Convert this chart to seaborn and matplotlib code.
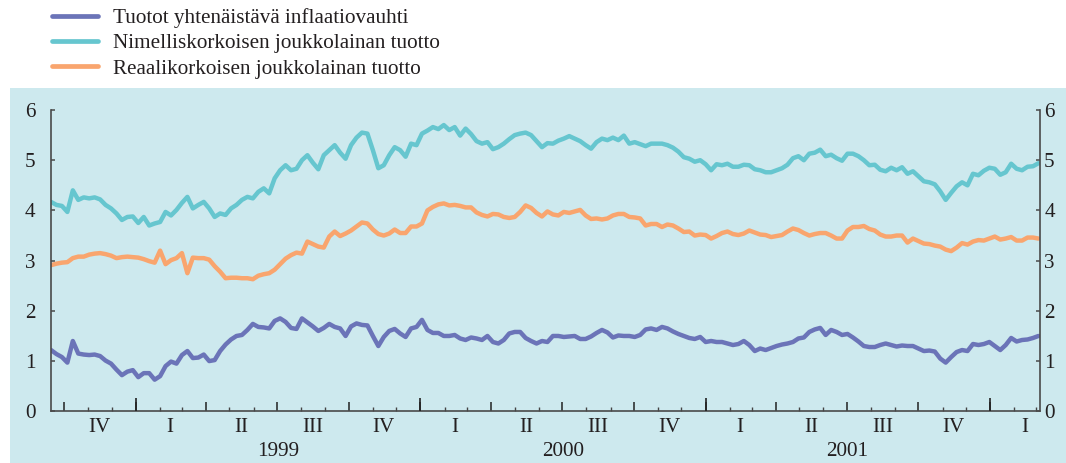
import numpy as np
import pandas as pd
import matplotlib
matplotlib.use("Agg")
import matplotlib.pyplot as plt
import matplotlib.dates as mdates
from matplotlib.patches import Rectangle
from matplotlib.lines import Line2D
import seaborn as sns

# ---------------- data (weekly readings, %) ----------------
dates = pd.date_range("1998-09-14", periods=182, freq="7D")

inflation = [
    1.22, 1.14, 1.08, 0.97, 1.40, 1.15, 1.13, 1.12, 1.13, 1.10,
    1.01, 0.95, 0.83, 0.72, 0.79, 0.82, 0.68, 0.76, 0.76, 0.63,
    0.70, 0.90, 0.99, 0.95, 1.12, 1.20, 1.06, 1.07, 1.13, 1.00,
    1.02, 1.20, 1.33, 1.43, 1.50, 1.52, 1.62, 1.74, 1.68, 1.67,
    1.65, 1.80, 1.85, 1.78, 1.66, 1.64,
    1.85, 1.77, 1.69, 1.60, 1.66, 1.74, 1.68, 1.65, 1.50, 1.69,
    1.75, 1.72, 1.71, 1.50, 1.30, 1.48, 1.60, 1.64, 1.55, 1.48,
    1.65, 1.68, 1.82, 1.62, 1.56, 1.56, 1.50, 1.50, 1.52, 1.45,
    1.42, 1.47, 1.45, 1.42, 1.50, 1.38, 1.35, 1.42, 1.55, 1.58,
    1.58, 1.46, 1.40, 1.35, 1.40, 1.38,
    1.50, 1.50, 1.48, 1.49, 1.50, 1.44, 1.44, 1.49, 1.56, 1.62,
    1.57, 1.47, 1.51, 1.50, 1.50, 1.48, 1.52, 1.63, 1.65, 1.62,
    1.68, 1.65, 1.59, 1.54, 1.50, 1.46, 1.44, 1.48, 1.38, 1.40,
    1.38, 1.38, 1.35, 1.32, 1.34, 1.40, 1.32, 1.20, 1.25, 1.22,
    1.26, 1.30, 1.33, 1.35, 1.38, 1.45,
    1.47, 1.58, 1.63, 1.66, 1.52, 1.62, 1.58, 1.52, 1.54, 1.47,
    1.39, 1.30, 1.28, 1.28, 1.32, 1.35, 1.32, 1.29, 1.31, 1.30,
    1.30, 1.25, 1.20, 1.21, 1.19, 1.05, 0.97, 1.08, 1.18, 1.22,
    1.20, 1.34, 1.32, 1.34, 1.38, 1.30, 1.22, 1.32, 1.46, 1.39,
    1.42, 1.43, 1.46, 1.50,
]

nominal = [
    4.17, 4.11, 4.09, 3.97, 4.40, 4.21, 4.26, 4.24, 4.26, 4.22,
    4.11, 4.04, 3.94, 3.81, 3.87, 3.88, 3.75, 3.87, 3.70, 3.74,
    3.77, 3.97, 3.90, 4.01, 4.15, 4.27, 4.04, 4.11, 4.17, 4.04,
    3.87, 3.94, 3.91, 4.04, 4.11, 4.21, 4.27, 4.24, 4.37, 4.44,
    4.34, 4.64, 4.80, 4.90, 4.80, 4.83,
    5.00, 5.10, 4.95, 4.82, 5.10, 5.20, 5.30, 5.15, 5.03, 5.30,
    5.45, 5.55, 5.53, 5.20, 4.84, 4.90, 5.10, 5.26, 5.20, 5.07,
    5.33, 5.30, 5.53, 5.59, 5.66, 5.62, 5.70, 5.60, 5.66, 5.49,
    5.63, 5.52, 5.38, 5.33, 5.36, 5.22, 5.26, 5.33, 5.42, 5.50,
    5.53, 5.55, 5.50, 5.38, 5.26, 5.34,
    5.33, 5.39, 5.43, 5.48, 5.43, 5.38, 5.30, 5.23, 5.36, 5.43,
    5.40, 5.45, 5.40, 5.49, 5.33, 5.36, 5.32, 5.28, 5.33, 5.33,
    5.33, 5.30, 5.25, 5.17, 5.06, 5.03, 4.97, 5.00, 4.92, 4.80,
    4.92, 4.90, 4.93, 4.87, 4.87, 4.91, 4.90, 4.82, 4.80, 4.76,
    4.76, 4.80, 4.84, 4.91, 5.04, 5.08,
    5.00, 5.13, 5.15, 5.21, 5.08, 5.11, 5.04, 4.99, 5.13, 5.13,
    5.08, 5.00, 4.90, 4.91, 4.81, 4.78, 4.85, 4.80, 4.86, 4.73,
    4.78, 4.68, 4.58, 4.56, 4.52, 4.38, 4.21, 4.35, 4.48, 4.56,
    4.50, 4.73, 4.70, 4.79, 4.85, 4.83, 4.71, 4.76, 4.93, 4.83,
    4.80, 4.87, 4.88, 4.94,
]

real = [
    2.91, 2.94, 2.96, 2.97, 3.05, 3.08, 3.08, 3.12, 3.14, 3.15,
    3.13, 3.10, 3.05, 3.07, 3.08, 3.07, 3.06, 3.03, 2.99, 2.96,
    3.20, 2.93, 3.01, 3.05, 3.15, 2.75, 3.06, 3.05, 3.05, 3.02,
    2.89, 2.78, 2.65, 2.66, 2.66, 2.65, 2.65, 2.63, 2.70, 2.73,
    2.75, 2.82, 2.93, 3.04, 3.11, 3.16,
    3.14, 3.38, 3.33, 3.28, 3.26, 3.48, 3.58, 3.49, 3.54, 3.60,
    3.68, 3.76, 3.74, 3.62, 3.53, 3.50, 3.54, 3.62, 3.55, 3.55,
    3.68, 3.68, 3.74, 4.00, 4.07, 4.12, 4.14, 4.10, 4.11, 4.09,
    4.06, 4.06, 3.96, 3.91, 3.88, 3.93, 3.92, 3.87, 3.85, 3.87,
    3.97, 4.10, 4.05, 3.95, 3.88, 3.98,
    3.92, 3.90, 3.97, 3.95, 3.98, 4.01, 3.90, 3.83, 3.84, 3.82,
    3.84, 3.90, 3.93, 3.93, 3.87, 3.86, 3.84, 3.70, 3.73, 3.73,
    3.67, 3.72, 3.70, 3.64, 3.57, 3.58, 3.50, 3.52, 3.51, 3.44,
    3.49, 3.55, 3.58, 3.53, 3.51, 3.54, 3.60, 3.56, 3.52, 3.51,
    3.47, 3.49, 3.51, 3.58, 3.64, 3.61,
    3.55, 3.50, 3.53, 3.55, 3.55, 3.50, 3.44, 3.44, 3.60, 3.67,
    3.67, 3.69, 3.63, 3.60, 3.52, 3.48, 3.48, 3.50, 3.50, 3.36,
    3.44, 3.39, 3.34, 3.33, 3.30, 3.28, 3.22, 3.19, 3.26, 3.35,
    3.32, 3.38, 3.41, 3.40, 3.44, 3.48, 3.42, 3.44, 3.47, 3.40,
    3.40, 3.46, 3.46, 3.44,
]

series_names = [
    "Tuotot yhtenäistävä inflaatiovauhti",
    "Nimelliskorkoisen joukkolainan tuotto",
    "Reaalikorkoisen joukkolainan tuotto",
]
series_colors = ["#6B74B8", "#66C6CF", "#F9A56E"]

quarter_labels = ["IV", "I", "II", "III", "IV", "I", "II", "III",
                  "IV", "I", "II", "III", "IV", "I"]
quarter_label_dates = ["1998-11-15", "1999-02-14", "1999-05-16", "1999-08-16",
                       "1999-11-15", "2000-02-14", "2000-05-16", "2000-08-16",
                       "2000-11-15", "2001-02-14", "2001-05-16", "2001-08-16",
                       "2001-11-15", "2002-02-14"]
year_labels = ["1999", "2000", "2001"]
year_label_dates = ["1999-07-02", "2000-07-02", "2001-07-02"]
y_ticks = [0, 1, 2, 3, 4, 5, 6]

# ---------------- style ----------------
sns.set_style("ticks")
plt.rcParams["font.family"] = ["Liberation Serif", "DejaVu Serif"]
BG = "#CDE9EE"
TXT = "#231F20"
SPINE = "#4A4A4A"
FS = 15.2

W, H = 1066, 463
fig = plt.figure(figsize=(W / 100, H / 100), dpi=100)
fig.patch.set_facecolor("white")
fig.patches.append(Rectangle((10 / W, 0), 1 - 10 / W, 375 / H,
                             transform=fig.transFigure, facecolor=BG,
                             edgecolor="none", zorder=-10))

ax_l, ax_r, ax_b, ax_t = 51, 1040, 411.3, 110
ax = fig.add_axes([ax_l / W, (H - ax_b) / H, (ax_r - ax_l) / W, (ax_b - ax_t) / H])
ax.set_facecolor("none")

df = pd.DataFrame({
    "date": np.tile(dates, 3),
    "value": inflation + nominal + real,
    "series": np.repeat(series_names, len(dates)),
})
sns.lineplot(data=df, x="date", y="value", hue="series", hue_order=series_names,
             palette=series_colors, linewidth=3.2, estimator=None, sort=True,
             legend=False, ax=ax)

ax.set_xlim(pd.Timestamp("1998-09-14"), pd.Timestamp("2002-03-06"))
ax.set_ylim(0, 6)
ax.set_xlabel("")
ax.set_ylabel("")

ax.spines["top"].set_visible(False)
for s in ["left", "right", "bottom"]:
    ax.spines[s].set_visible(True)
    ax.spines[s].set_color(SPINE)
    ax.spines[s].set_linewidth(1.2)

# x ticks: quarters (major), months (minor), years (on twin axis, longer)
ax.xaxis.set_major_locator(mdates.MonthLocator(bymonth=[1, 4, 7, 10]))
ax.xaxis.set_minor_locator(mdates.MonthLocator())
ax.xaxis.set_major_formatter(plt.NullFormatter())
ax.xaxis.set_minor_formatter(plt.NullFormatter())
ax.tick_params(axis="x", which="major", direction="in", length=6.5, width=1.1,
               color="#222222", bottom=True, top=False)
ax.tick_params(axis="x", which="minor", direction="in", length=3.2, width=1.0,
               color="#444444", bottom=True, top=False)

ax_year = ax.twiny()
ax_year.set_xlim(ax.get_xlim())
ax_year.xaxis.set_ticks_position("bottom")
ax_year.xaxis.set_major_locator(mdates.YearLocator())
ax_year.xaxis.set_major_formatter(plt.NullFormatter())
ax_year.xaxis.set_minor_locator(plt.NullLocator())
ax_year.tick_params(axis="x", which="major", direction="in", length=9.5, width=1.2,
                    color="#222222", bottom=True, top=False, labelbottom=False,
                    labeltop=False)
ax_year.yaxis.set_visible(False)
for s in ax_year.spines.values():
    s.set_visible(False)
ax_year.set_facecolor("none")

# y ticks left and right
ax.set_yticks(y_ticks)
ax.set_yticklabels([str(v) for v in y_ticks])
ax.tick_params(axis="y", direction="in", length=3, width=1.1, color=SPINE,
               left=True, right=False, labelsize=FS, labelcolor=TXT, pad=11)
ax_rt = ax.twinx()
ax_rt.set_ylim(0, 6)
ax_rt.set_yticks(y_ticks)
ax_rt.set_yticklabels([str(v) for v in y_ticks])
ax_rt.tick_params(axis="y", direction="in", length=3, width=1.1, color=SPINE,
                  right=True, left=False, labelsize=FS, labelcolor=TXT, pad=3)
ax_rt.xaxis.set_visible(False)
for s in ax_rt.spines.values():
    s.set_visible(False)
ax_rt.set_facecolor("none")

# quarter and year labels
for lab, d in zip(quarter_labels, quarter_label_dates):
    ax.annotate(lab, xy=(pd.Timestamp(d), 0), xycoords=("data", "axes fraction"),
                xytext=(0, -12), textcoords="offset points", ha="center",
                va="center", fontsize=FS, color=TXT, annotation_clip=False)
for lab, d in zip(year_labels, year_label_dates):
    ax.annotate(lab, xy=(pd.Timestamp(d), 0), xycoords=("data", "axes fraction"),
                xytext=(0, -29), textcoords="offset points", ha="center",
                va="center", fontsize=FS, color=TXT, annotation_clip=False)

# legend
handles = [Line2D([0], [0], color=c, linewidth=3.4) for c in series_colors]
fig.legend(handles, series_names, loc="upper left",
           bbox_to_anchor=(52 / W, 1 - 8 / H), frameon=False, fontsize=FS,
           handlelength=2.16, handletextpad=0.75, labelspacing=0.27,
           borderaxespad=0, borderpad=0, labelcolor=TXT)

fig.savefig("out.png", dpi=100, facecolor="white")
